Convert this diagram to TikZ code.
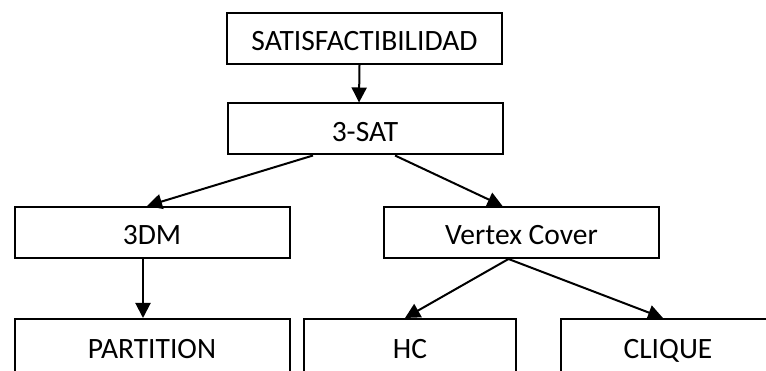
\documentclass[tikz,border=0pt]{standalone}
\usepackage{fontspec}
\setmainfont{Carlito}
\usetikzlibrary{arrows.meta,positioning}

\begin{document}
\begin{tikzpicture}[x=1pt, y=-1pt,
    probbox/.style={rectangle, draw=black, line width=2pt, minimum width=275pt, minimum height=51pt, inner sep=0pt, text height=25pt, text depth=0pt, font=\fontsize{29.5}{34}\selectfont},
    smallbox/.style={probbox, minimum width=212pt},
    cutbox/.style={minimum height=54pt},
    arrow/.style={-{Triangle[length=15pt,width=15pt]}, line width=2pt}
]
    \useasboundingbox (0,0) rectangle (766,371);
    \clip (0,0) rectangle (766,371);

    % --- NIVEL 1 ---
    \node[probbox] (SAT) at (364.5, 38.5) {SATISFACTIBILIDAD};
    \node[probbox] (TSAT) at (365, 129) {3-SAT};
    \draw[arrow] ([xshift=-5pt]SAT.south) -- ([xshift=-6pt]TSAT.north);

    % --- NIVEL 2 ---
    \node[probbox] (TDM) at (152, 232.5) {3DM};
    \node[probbox] (VC) at (521.5, 232.5) {Vertex Cover};
    \draw[arrow] ([xshift=-52pt]TSAT.south) -- ([xshift=-5pt]TDM.north);
    \draw[arrow] ([xshift=30pt]TSAT.south) -- ([xshift=-19pt]VC.north);

    % --- NIVEL 3 (cortado abajo) ---
    \node[probbox, cutbox] (PART) at (152, 346) {PARTITION};
    \node[smallbox, cutbox] (HC) at (410, 346) {HC};
    \node[smallbox, cutbox, minimum width=230pt] (CLQ) at (676, 346) {\hspace*{-16pt}CLIQUE};
    \draw[arrow] ([xshift=-9pt]TDM.south) -- ([xshift=-9pt]PART.north);
    \draw[arrow] ([xshift=-13pt]VC.south) -- ([xshift=-5pt]HC.north);
    \draw[arrow] ([xshift=-13pt]VC.south) -- ([xshift=-13pt]CLQ.north);

\end{tikzpicture}
\end{document}
